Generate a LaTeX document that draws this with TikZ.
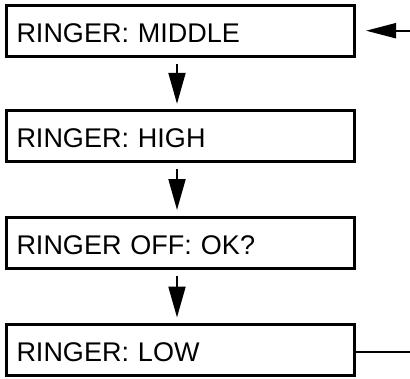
\documentclass[tikz,border=0pt]{standalone}
\usepackage{fontspec}
\setmainfont{Liberation Sans}
\usetikzlibrary{arrows.meta}
\tikzset{
  statebox/.style={draw, line width=3pt, minimum height=51pt, inner xsep=10pt, inner ysep=0pt,
    text width=327.5pt, align=left, text height=23pt, text depth=0pt,
    font=\fontsize{27pt}{30pt}\selectfont},
  flowarrow/.style={line width=2pt, -{Triangle[length=31pt,width=17pt]}},
  sidearrow/.style={line width=2pt, -{Triangle[length=30pt,width=15pt]}},
  sideline/.style={line width=2pt}
}
\begin{document}
\begin{tikzpicture}[x=1pt,y=-1pt]
\useasboundingbox (0,0) rectangle (410,378);
\node[statebox] (b1) at (180.25,30.5) {RINGER: MIDDLE};
\node[statebox] (b2) at (180.25,136.3) {RINGER: HIGH};
\node[statebox] (b3) at (180.25,242.5) {RINGER OFF: OK?};
\node[statebox] (b4) at (180.25,350) {RINGER: LOW};
\coordinate (ax) at (177,0);
\coordinate (in) at (410,30.7);
\coordinate (out) at (410,351.7);
\draw[flowarrow, shorten <=6pt, shorten >=5.5pt] (b1.south -| ax) -- (b2.north -| ax);
\draw[flowarrow, shorten <=6pt, shorten >=5.5pt] (b2.south -| ax) -- (b3.north -| ax);
\draw[flowarrow, shorten <=6pt, shorten >=5.5pt] (b3.south -| ax) -- (b4.north -| ax);
\draw[sidearrow, shorten >=10.5pt] (in) -- (b1.east |- in);
\draw[sideline] (b4.east |- out) -- (out);
\end{tikzpicture}
\end{document}
